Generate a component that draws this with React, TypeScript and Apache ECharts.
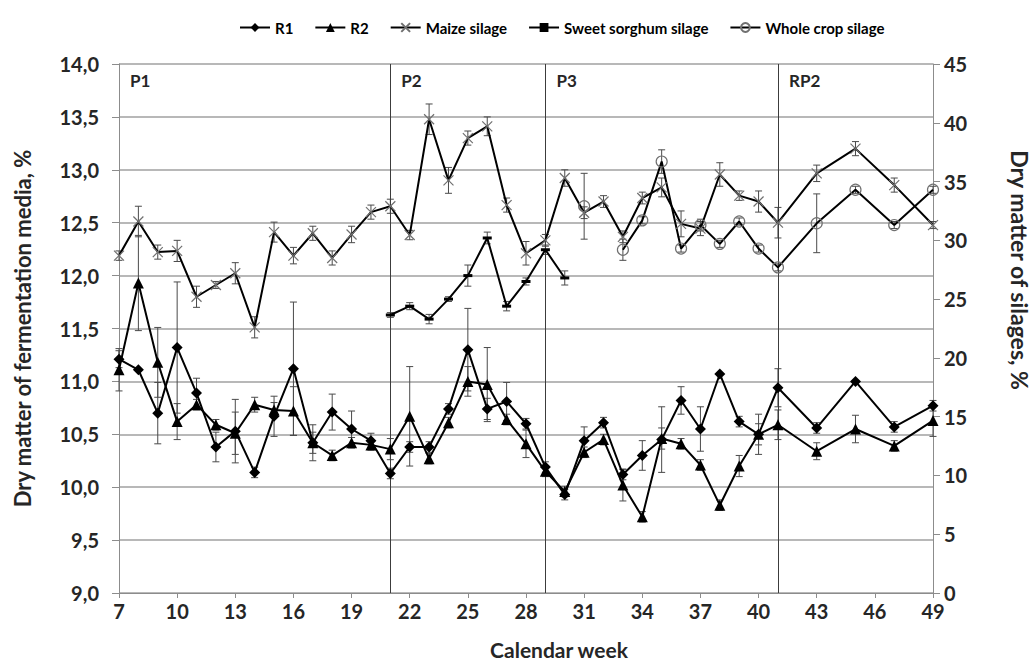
import React, { useEffect, useRef } from 'react';
import * as echarts from 'echarts';

// ---- Data ----
const weeks = [7, 8, 9, 10, 11, 12, 13, 14, 15, 16, 17, 18, 19, 20, 21, 22, 23, 24, 25, 26, 27, 28, 29, 30, 31, 32, 33, 34, 35, 36, 37, 38, 39, 40, 41, 43, 45, 47, 49];

const r1 = [11.21, 11.11, 10.70, 11.32, 10.89, 10.38, 10.53, 10.14, 10.67, 11.12,
  10.42, 10.71, 10.55, 10.44, 10.13, 10.38, 10.38, 10.74, 11.30, 10.74,
  10.81, 10.60, 10.19, 9.93, 10.44, 10.61, 10.12, 10.30, 10.45, 10.82,
  10.55, 11.07, 10.62, 10.50, 10.94,
  10.56, 11.00, 10.57, 10.77];
const r1Err = [0.08, 0, 0.29, 0.62, 0.14, 0.14, 0.3, 0.05, 0.19, 0.63,
  0.1, 0.17, 0.17, 0.07, 0.05, 0.05, 0.05, 0.05, 0.39, 0.1,
  0.18, 0.05, 0.05, 0.05, 0.13, 0.05, 0.05, 0.14, 0.31, 0.13,
  0.21, 0, 0.05, 0.19, 0.18,
  0.05, 0, 0.05, 0.05];

const r2 = [11.11, 11.93, 11.18, 10.62, 10.78, 10.59, 10.51, 10.78, 10.73, 10.72,
  10.42, 10.30, 10.42, 10.40, 10.36, 10.67, 10.27, 10.61, 11.00, 10.97,
  10.64, 10.41, 10.15, 9.96, 10.33, 10.45, 10.02, 9.72, 10.46, 10.41,
  10.21, 9.83, 10.20, 10.50, 10.59,
  10.34, 10.55, 10.39, 10.63];
const r2Err = [0.2, 0.45, 0.33, 0.17, 0.05, 0.05, 0.2, 0.07, 0.07, 0.23,
  0.17, 0.05, 0.05, 0.05, 0.1, 0.47, 0.05, 0.05, 0.14, 0.35,
  0.05, 0.13, 0.05, 0.05, 0.05, 0.05, 0.15, 0.05, 0.1, 0.05,
  0.05, 0.05, 0.1, 0.1, 0.14,
  0.08, 0.13, 0.05, 0.15];

const maize = [28.7, 31.6, 29.0, 29.1, 25.2, 26.2, 27.2, 22.6, 30.7, 28.7,
  30.6, 28.5, 30.5, 32.4, 32.9, 30.45, 40.3, 35.1, 38.7, 39.7,
  33.0, 28.9, 30.0, 35.3, 32.35, 33.3, 30.3, 33.6, 34.5, 31.4,
  31.0, 35.6, 33.8, 33.3, 31.5,
  35.7, 37.8, 34.7, 31.3];
const maizeErr = [0.4, 1.3, 0.6, 0.9, 0.9, 0.3, 0.9, 0.9, 0.85, 0.7,
  0.6, 0.6, 0.7, 0.6, 0.6, 0.4, 1.3, 1.1, 0.6, 0.8,
  0.6, 1.0, 0.5, 0.7, 0.5, 0.5, 0.5, 0.5, 0.8, 1.1,
  0.6, 1.0, 0.4, 0.9, 1.3,
  0.7, 0.6, 0.6, 0.3];

const sorghumWeeks = [21, 22, 23, 24, 25, 26, 27, 28, 29, 30];
const sorghum = [23.65, 24.4, 23.3, 25.0, 27.0, 30.2, 24.4, 26.5, 29.2, 26.8];
const sorghumErr = [0.2, 0.3, 0.4, 0.2, 0.9, 0.5, 0.4, 0.3, 0.4, 0.6];

const wholeWeeks = [31, 32, 33, 34, 35, 36, 37, 38, 39, 40, 41, 43, 45, 47, 49];
const whole = [32.9, null, 29.2, 31.7, 36.7, 29.3, 31.3, 29.7, 31.6, 29.3, 27.7, 31.45, 34.3, 31.3, 34.3];
const wholeErr = [2.8, 0, 0.9, 0.3, 1.0, 0.3, 0.5, 0.3, 0.3, 0.3, 0.3, 2.5, 0.3, 0.3, 0.3];

const periodStarts = [7, 21, 29, 41];
const periodLabels = ['P1', 'P2', 'P3', 'RP2'];

const leftTicks = { min: 9, max: 14, interval: 0.5 };
const rightTicks = { min: 0, max: 45, interval: 5 };

const FONT = 'Lato, "Open Sans", sans-serif';
const TXT = '#262626';

function pairs(xs: number[], ys: (number | null)[]) {
  return xs.map((x, i) => [x, ys[i] == null ? '-' : ys[i]]);
}
function errData(xs: number[], ys: (number | null)[], es: number[]) {
  const out: number[][] = [];
  xs.forEach((x, i) => {
    const y = ys[i];
    if (y == null || !es[i]) return;
    out.push([x, y - es[i], y + es[i]]);
  });
  return out;
}

function errSeries(data: number[][], yAxisIndex: number) {
  return {
    type: 'custom',
    yAxisIndex,
    silent: true,
    z: 3,
    encode: { x: 0, y: [1, 2] },
    data,
    renderItem: (params: any, api: any) => {
      const x = api.value(0);
      const lo = api.coord([x, api.value(1)]);
      const hi = api.coord([x, api.value(2)]);
      const w = 3.5;
      const st = { stroke: '#4a4a4a', lineWidth: 1 };
      return {
        type: 'group',
        children: [
          { type: 'line', shape: { x1: lo[0], y1: lo[1], x2: hi[0], y2: hi[1] }, style: st },
          { type: 'line', shape: { x1: hi[0] - w, y1: hi[1], x2: hi[0] + w, y2: hi[1] }, style: st },
          { type: 'line', shape: { x1: lo[0] - w, y1: lo[1], x2: lo[0] + w, y2: lo[1] }, style: st },
        ],
      };
    },
  };
}

const fmt = (v: number) => v.toFixed(1).replace('.', ',');

export default function App() {
  const ref = useRef<HTMLDivElement>(null);
  useEffect(() => {
    if (!ref.current) return;
    const chart = echarts.init(ref.current, null, { renderer: 'svg' });
    const lineW = 2;
    const option: any = {
      animation: false,
      backgroundColor: '#fff',
      textStyle: { fontFamily: FONT },
      grid: { left: 119, right: 102, top: 64, bottom: 69, containLabel: false },
      legend: {
        top: 15,
        left: 234,
        itemGap: 21,
        itemWidth: 30,
        itemHeight: 11,
        textStyle: { fontFamily: FONT, fontSize: 15, color: '#000', fontWeight: 'bold' },
        data: ['R1', 'R2', 'Maize silage', 'Sweet sorghum silage', 'Whole crop silage'],
      },
      xAxis: {
        type: 'value',
        min: 7,
        max: 49,
        interval: 3,
        axisLine: { show: true, lineStyle: { color: '#8c8c8c', width: 1 } },
        axisTick: { show: true, length: 5, lineStyle: { color: '#8c8c8c' } },
        splitLine: { show: false },
        axisLabel: { fontFamily: FONT, fontSize: 20, fontWeight: 'bold', color: TXT, margin: 8 },
      },
      yAxis: [
        {
          type: 'value',
          ...leftTicks,
          position: 'left',
          axisLine: { show: true, lineStyle: { color: '#8c8c8c', width: 1 } },
          axisTick: { show: true, length: 7, lineStyle: { color: '#8c8c8c' } },
          splitLine: { show: true, lineStyle: { color: '#a0a0a0', width: 1.5 } },
          axisLabel: { fontFamily: FONT, fontSize: 20, fontWeight: 'bold', color: TXT, margin: 20, formatter: fmt },
          name: 'Dry matter of fermentation media, %',
          nameLocation: 'middle',
          nameGap: 86,
          nameTextStyle: { fontFamily: FONT, fontSize: 22, fontWeight: 'bold', color: TXT },
        },
        {
          type: 'value',
          ...rightTicks,
          position: 'right',
          axisLine: { show: true, lineStyle: { color: '#8c8c8c', width: 1 } },
          axisTick: { show: true, length: 7, lineStyle: { color: '#8c8c8c' } },
          splitLine: { show: false },
          axisLabel: { fontFamily: FONT, fontSize: 20, fontWeight: 'bold', color: TXT, margin: 11 },
        },
      ],
      series: [
        errSeries(errData(weeks, r1, r1Err), 0),
        errSeries(errData(weeks, r2, r2Err), 0),
        errSeries(errData(weeks, maize, maizeErr), 1),
        errSeries(errData(sorghumWeeks, sorghum, sorghumErr), 1),
        errSeries(errData(wholeWeeks, whole, wholeErr), 1),
        {
          name: 'R1', type: 'line', yAxisIndex: 0, z: 5,
          data: pairs(weeks, r1),
          symbol: 'diamond', symbolSize: 11,
          itemStyle: { color: '#000' },
          lineStyle: { color: '#000', width: lineW },
          markLine: {
            silent: true, symbol: 'none', label: { show: false },
            lineStyle: { color: '#3c3c3c', width: 1, type: 'solid' },
            data: periodStarts.slice(1).map((w) => ({ xAxis: w })),
          },
        },
        {
          name: 'R2', type: 'line', yAxisIndex: 0, z: 5,
          data: pairs(weeks, r2),
          symbol: 'triangle', symbolSize: 11,
          itemStyle: { color: '#000' },
          lineStyle: { color: '#000', width: lineW },
        },
        {
          name: 'Maize silage', type: 'line', yAxisIndex: 1, z: 5,
          data: pairs(weeks, maize),
          symbol: 'path://M0,0L10,10M10,0L0,10', symbolSize: 10,
          itemStyle: { color: 'transparent', borderColor: '#707070', borderWidth: 1.2 },
          lineStyle: { color: '#000', width: lineW },
        },
        {
          name: 'Sweet sorghum silage', type: 'line', yAxisIndex: 1, z: 5,
          data: pairs(sorghumWeeks, sorghum),
          symbol: 'rect', symbolSize: [9, 3],
          itemStyle: { color: '#000' },
          lineStyle: { color: '#000', width: lineW },
        },
        {
          name: 'Whole crop silage', type: 'line', yAxisIndex: 1, z: 5,
          data: pairs(wholeWeeks, whole),
          connectNulls: false,
          symbol: 'circle', symbolSize: 11,
          itemStyle: { color: 'transparent', borderColor: '#707070', borderWidth: 1.2 },
          lineStyle: { color: '#000', width: lineW },
        },
      ],
    };
    chart.setOption(option);

    const graphics: any[] = periodStarts.map((w, i) => {
      const px = chart.convertToPixel({ xAxisIndex: 0 }, w) as number;
      return {
        type: 'text', x: px + 11, y: 72,
        style: { text: periodLabels[i], fontFamily: FONT, fontSize: 17, fontWeight: 'bold', fill: TXT },
      };
    });
    graphics.push({
      type: 'text', x: 1020, y: 270, rotation: -Math.PI / 2,
      style: { text: 'Dry matter of silages, %', fontFamily: FONT, fontSize: 23, fontWeight: 'bold', fill: TXT, align: 'center', verticalAlign: 'middle' },
    });
    graphics.push({
      type: 'text', x: 559, y: 649,
      style: { text: 'Calendar week', fontFamily: FONT, fontSize: 21, fontWeight: 'bold', fill: TXT, align: 'center', verticalAlign: 'middle' },
    });
    chart.setOption({ graphic: graphics });

    return () => chart.dispose();
  }, []);
  return <div ref={ref} style={{ position: 'absolute', left: 0, top: 0, width: 1035, height: 662 }} />;
}
